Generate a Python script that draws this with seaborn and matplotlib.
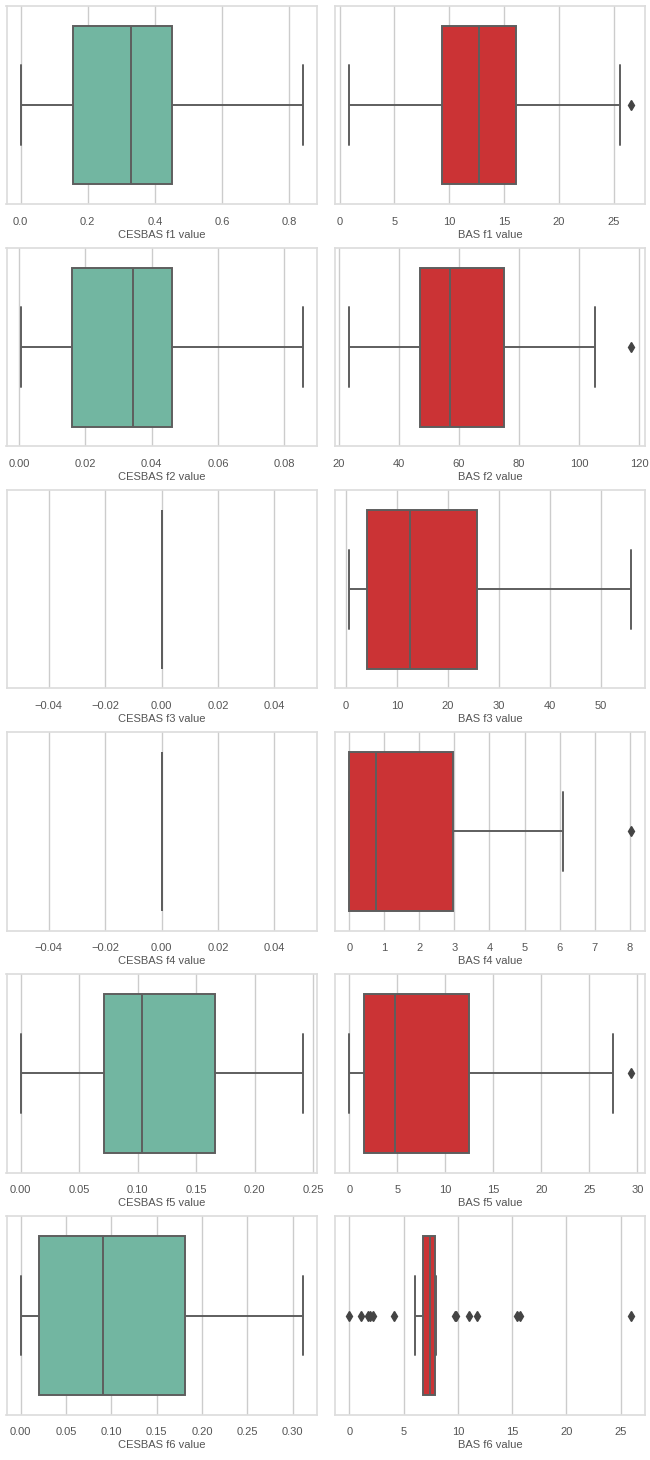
import numpy as np
import pandas as pd
import matplotlib
matplotlib.use('Agg')
import matplotlib.pyplot as plt
import seaborn as sns

# values (min, quartiles, whisker ends, outliers)
cesbas_f1 = [0.0, 0.157, 0.33, 0.45, 0.84]
cesbas_f2 = [0.0005, 0.016, 0.0345, 0.046, 0.0855]
cesbas_f3 = [0.0, 0.0, 0.0, 0.0, 0.0]
cesbas_f4 = [0.0, 0.0, 0.0, 0.0, 0.0]
cesbas_f5 = [0.0, 0.0715, 0.104, 0.166, 0.241]
cesbas_f6 = [0.0, 0.0207, 0.0904, 0.1815, 0.311]

bas_f1 = [0.9, 5.0, 9.3, 11.0, 12.7, 14.4, 16.1, 25.6, 26.6]
bas_f2 = [23.5, 38.0, 47.0, 52.0, 57.0, 66.0, 75.0, 105.3, 117.4]
bas_f3 = [0.7, 4.2, 12.6, 25.6, 55.9]
bas_f4 = [0.0, 0.0, 0.0, 0.4, 0.77, 1.8, 2.95, 6.1, 8.05]
bas_f5 = [0.0, 0.8, 1.55, 3.0, 4.8, 8.0, 12.43, 27.5, 29.36]
bas_f6 = [0.0, 1.1, 1.7, 1.9, 2.15, 4.1, 6.08, 6.5,
          6.76, 6.9, 7.0, 7.1, 7.2, 7.25, 7.3, 7.35,
          7.4, 7.5, 7.55, 7.6, 7.65, 7.7, 7.75, 7.8,
          7.87, 8.03, 9.7, 9.8, 11.0, 11.8, 15.5, 15.7, 26.0]

cesbas = [cesbas_f1, cesbas_f2, cesbas_f3, cesbas_f4, cesbas_f5, cesbas_f6]
bas = [bas_f1, bas_f2, bas_f3, bas_f4, bas_f5, bas_f6]
features = ['f1', 'f2', 'f3', 'f4', 'f5', 'f6']

sns.set_theme(style='whitegrid')
plt.rcParams['font.family'] = ['Liberation Sans', 'DejaVu Sans']
plt.rcParams['font.size'] = 8
plt.rcParams['axes.labelsize'] = 8
plt.rcParams['xtick.labelsize'] = 8
plt.rcParams['axes.labelcolor'] = '#555555'
plt.rcParams['xtick.color'] = '#555555'

line_col = '#5e5e5e'
fliers = {'marker': 'd', 'markersize': 5, 'markerfacecolor': '#444444',
          'markeredgecolor': '#444444'}

fig, axes = plt.subplots(6, 2, figsize=(6.5, 14.6), dpi=100)
for i, f in enumerate(features):
    df_c = pd.DataFrame({'value': cesbas[i]})
    df_b = pd.DataFrame({'value': bas[i]})
    sns.boxplot(x='value', data=df_c, ax=axes[i, 0], color='#66c2a5', orient='h',
                linecolor=line_col, linewidth=1.4, flierprops=fliers)
    sns.boxplot(x='value', data=df_b, ax=axes[i, 1], color='#e41a1c', orient='h',
                linecolor=line_col, linewidth=1.4, flierprops=fliers)
    axes[i, 0].set_xlabel('CESBAS ' + f + ' value', labelpad=2)
    axes[i, 1].set_xlabel('BAS ' + f + ' value', labelpad=2)
    for ax in axes[i]:
        ax.set_ylabel('')
        ax.set_yticks([])
        ax.tick_params(axis='x', pad=3)
        for s in ax.spines.values():
            s.set_color('#dddddd')

plt.subplots_adjust(left=0.01, right=0.993, top=0.996, bottom=0.031, wspace=0.06, hspace=0.22)
plt.savefig('out.png')
